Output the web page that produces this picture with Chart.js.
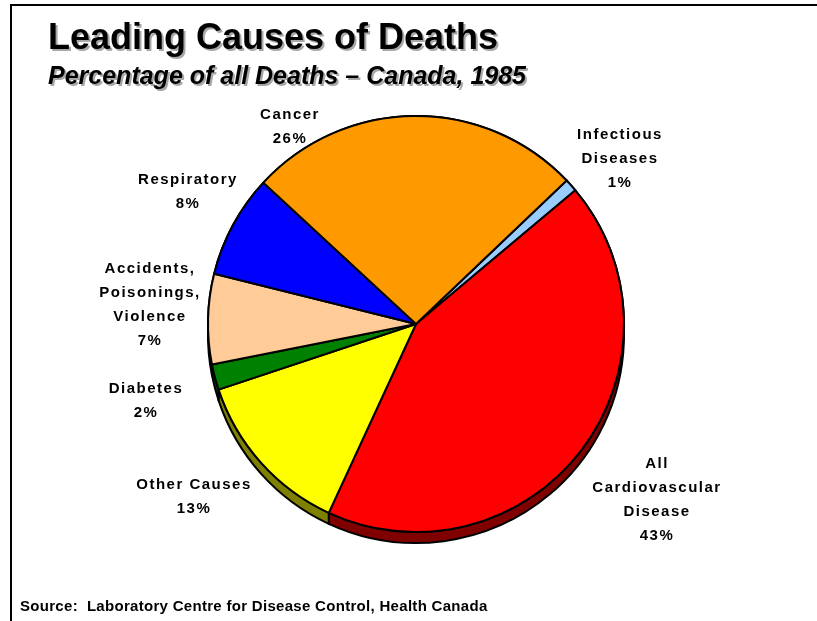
<!DOCTYPE html>
<html>
<head>
<meta charset="utf-8">
<script src="https://cdn.jsdelivr.net/npm/chart.js@4/dist/chart.umd.min.js"></script>
<style>
  html, body { margin: 0; padding: 0; background: #ffffff; }
  #wrap { width: 817px; height: 621px; position: relative; }
</style>
</head>
<body>
<div id="wrap"><canvas id="chart" width="817" height="621"></canvas></div>
<script>
// Causes of death, clockwise from the upper right
const causes = ['Infectious\nDiseases', 'All\nCardiovascular\nDisease', 'Other Causes', 'Diabetes',
                'Accidents,\nPoisonings,\nViolence', 'Respiratory', 'Cancer'];
const percentages = [1, 43, 13, 2, 7, 8, 26];

const sliceColors = ['#99CCFF', '#FF0000', '#FFFF00', '#008000', '#FFCC99', '#0000FF', '#FF9900'];
const sideColors  = ['#4D6680', '#800000', '#808000', '#004000', '#806650', '#000080', '#804D00'];

// where each label block sits, relative to the pie centre (px)
const labelOffsets = [[204, -165], [241, 176], [-222, 173], [-270, 77], [-266, -19], [-228, -132], [-126, -197]];

const titleText = 'Leading Causes of Deaths';
const subtitleText = 'Percentage of all Deaths \u2013 Canada, 1985';
const sourceText = 'Source:  Laboratory Centre for Disease Control, Health Canada';

const DEPTH = 11;

// frame, headings and source line
const decorPlugin = {
  id: 'decor',
  beforeDraw(chart) {
    const ctx = chart.ctx;
    ctx.save();
    ctx.fillStyle = '#ffffff';
    ctx.fillRect(0, 0, chart.width, chart.height);
    ctx.fillStyle = '#000000';
    ctx.fillRect(10, 4, chart.width - 10, 2);
    ctx.fillRect(10, 4, 2, chart.height - 4);

    ctx.textBaseline = 'alphabetic';
    ctx.textAlign = 'left';
    ctx.font = 'bold 36px "Liberation Sans", Arial, sans-serif';
    ctx.fillStyle = '#a8a8a8';
    ctx.fillText(titleText, 50, 51);
    ctx.fillStyle = '#000000';
    ctx.fillText(titleText, 48, 49);

    ctx.font = 'italic bold 25px "Liberation Sans", Arial, sans-serif';
    ctx.fillStyle = '#a8a8a8';
    ctx.fillText(subtitleText, 50, 86);
    ctx.fillStyle = '#000000';
    ctx.fillText(subtitleText, 48, 84);

    ctx.font = 'bold 15px "Liberation Sans", Arial, sans-serif';
    if ('letterSpacing' in ctx) ctx.letterSpacing = '0.3px';
    ctx.fillText(sourceText, 20, 611);
    ctx.restore();
  }
};

// extruded side of the pie, drawn beneath the slices, then the labels
const depthPlugin = {
  id: 'pieDepth',
  beforeDatasetsDraw(chart) {
    const ctx = chart.ctx;
    const arcs = chart.getDatasetMeta(0).data;
    ctx.save();
    ctx.lineWidth = 2;
    ctx.strokeStyle = '#000000';
    ctx.lineJoin = 'round';
    arcs.forEach((arc, i) => {
      const {x, y, startAngle, endAngle, outerRadius} = arc.getProps(['x', 'y', 'startAngle', 'endAngle', 'outerRadius'], true);
      ctx.beginPath();
      ctx.arc(x, y + DEPTH, outerRadius, startAngle, endAngle, false);
      ctx.lineTo(x + outerRadius * Math.cos(endAngle), y + outerRadius * Math.sin(endAngle));
      ctx.arc(x, y, outerRadius, endAngle, startAngle, true);
      ctx.closePath();
      ctx.fillStyle = sideColors[i];
      ctx.fill();
      ctx.stroke();
    });
    ctx.restore();
  },
  afterDatasetsDraw(chart) {
    const ctx = chart.ctx;
    const meta = chart.getDatasetMeta(0);
    const first = meta.data[0];
    const cx = first.x, cy = first.y;
    ctx.save();
    ctx.font = 'bold 15px "Liberation Sans", Arial, sans-serif';
    if ('letterSpacing' in ctx) ctx.letterSpacing = '1.5px';
    ctx.fillStyle = '#000000';
    ctx.textAlign = 'center';
    ctx.textBaseline = 'middle';
    const lineH = 24;
    causes.forEach((name, i) => {
      const lines = name.split('\n').concat([percentages[i] + '%']);
      const bx = cx + labelOffsets[i][0];
      const by = cy + labelOffsets[i][1];
      const top = by - (lines.length - 1) * lineH / 2;
      lines.forEach((ln, k) => ctx.fillText(ln, bx, top + k * lineH));
    });
    ctx.restore();
  }
};

new Chart(document.getElementById('chart'), {
  type: 'pie',
  data: {
    labels: causes,
    datasets: [{
      data: percentages,
      backgroundColor: sliceColors,
      borderColor: '#000000',
      borderWidth: 2,
      borderJoinStyle: 'round'
    }]
  },
  options: {
    responsive: false,
    animation: false,
    rotation: 46.4,
    radius: 208,
    layout: { padding: { left: 208, right: 193, top: 116, bottom: 89 } },
    plugins: {
      legend: { display: false },
      tooltip: { enabled: false },
      title: { display: false }
    }
  },
  plugins: [decorPlugin, depthPlugin]
});
</script>
</body>
</html>
